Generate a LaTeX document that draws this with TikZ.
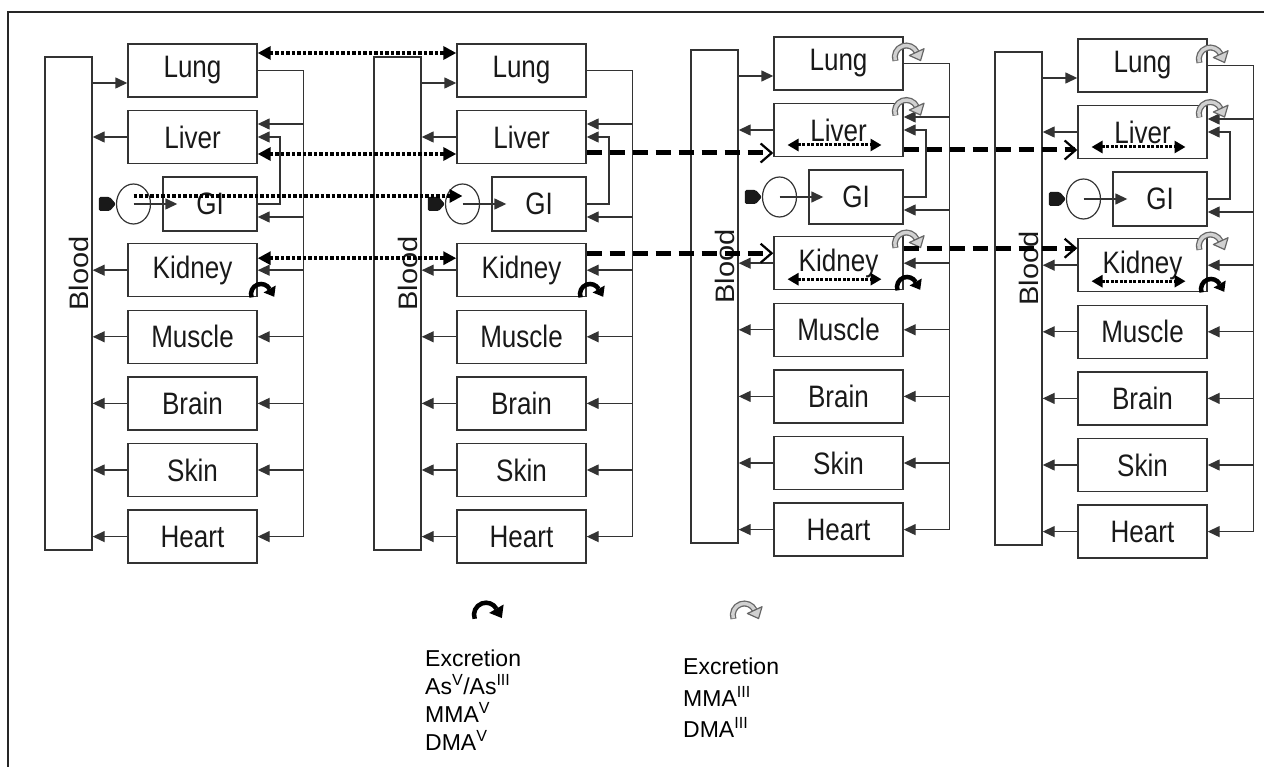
\documentclass[tikz,border=0pt]{standalone}
\usepackage{fontspec}
\setmainfont{Liberation Sans}
\usepackage{graphicx}
\usetikzlibrary{arrows.meta,shapes.geometric,calc}
\newcommand\sq[1]{\scalebox{0.84}[1]{#1}}
\tikzset{
  ln/.style={draw=black!80, line width=1.4pt},
  arr/.style={ln, -{Triangle[length=12pt,width=11pt]}},
  organ/.style={draw=black!80, line width=1.4pt, rectangle, minimum width=129pt, minimum height=53pt, inner sep=0pt, text=black!90, font=\fontsize{31}{36}\selectfont},
  gibox/.style={organ, minimum width=94pt, minimum height=54pt},
  blood/.style={draw=black!80, line width=1.4pt, rectangle, minimum width=47pt, minimum height=493pt, inner sep=0pt},
  bloodtxt/.style={rotate=90, inner sep=0pt, text=black!90, font=\fontsize{29}{34}\selectfont},
  lumen/.style={ellipse, draw=black!80, line width=1.2pt, minimum width=34pt, minimum height=40pt, inner sep=0pt},
  tab/.style={fill=black!90, rounded corners=1.5pt},
  dotarr/.style={line width=4pt, black, dash pattern=on 3.5pt off 2pt, {Triangle[length=13pt,width=13pt]}-{Triangle[length=13pt,width=13pt]}},
  dotone/.style={line width=4pt, black, dash pattern=on 3.5pt off 2pt, -{Triangle[length=13pt,width=13pt]}},
  innerdot/.style={line width=3pt, black, dash pattern=on 3pt off 1.5pt, {Triangle[length=11pt,width=12pt]}-{Triangle[length=11pt,width=12pt]}},
  dasharr/.style={line width=5pt, black, dash pattern=on 15pt off 8pt, -{Straight Barb[length=11pt,width=19pt,line width=2.2pt]}},
  legend/.style={inner sep=0pt, align=left, text=black},
  frame/.style={line width=1.5pt, black!85},
  blackcurl/.pic={
    \draw[line width=4.5pt, black] (200:10) arc (200:30:10);
    \fill[black] (14.7,8.5) -- (13.2,-2.8) -- (2.6,1.5) -- cycle;
  },
  graycurl/.pic={
    \draw[line width=6pt, black!60] (200:10) arc (200:25:10);
    \draw[line width=3.4pt, black!18] (197:10) arc (197:28:10);
    \filldraw[fill=black!18, draw=black!60, line width=1.2pt, line join=round] (15.4,7.2) -- (12.4,-3.05) -- (2.7,1.3) -- cycle;
  },
}
\newcommand\organcol[1]{%
  \node[blood] (#1blood) at (-59.5,-303.5) {};
  \node[bloodtxt] (#1bloodtxt) at (-49.5,-273.5) {\scalebox{1}[0.92]{Blood}};
  \node[organ] (#1lung) at (64.5,-70.5) {\sq{Lung}};
  \node[organ] (#1liver) at (64.5,-137) {\sq{Liver}};
  \node[gibox] (#1gi) at (82,-204) {\sq{GI}};
  \node[organ] (#1kidney) at (64.5,-270.2) {\sq{Kidney}};
  \node[organ] (#1muscle) at (64.5,-336.8) {\sq{Muscle}};
  \node[organ] (#1brain) at (64.5,-403.4) {\sq{Brain}};
  \node[organ] (#1skin) at (64.5,-470) {\sq{Skin}};
  \node[organ] (#1heart) at (64.5,-536.6) {\sq{Heart}};
  \node[lumen] (#1lumen) at (5.5,-204) {};
  \coordinate (#1vtop) at (175.5,-70.5);
  \coordinate (#1vbot) at (175.5,-536.6);
  \coordinate (#1bend) at (152,-204);
  \coordinate (#1bl) at ([yshift=-12.5pt]#1lung.west);
  \coordinate (#1livin) at ([yshift=13pt]#1liver.east);
  \coordinate (#1giin) at ([yshift=-13pt]#1gi.east);
  \coordinate (#1gitip) at ([xshift=15pt]#1gi.west);
  \draw[arr] (#1bl -| #1blood.east) -- (#1bl);
  \draw[ln] (#1lung.east) -- (#1vtop) -- (#1vbot);
  \draw[arr] (#1livin -| #1vtop) -- (#1livin);
  \draw[arr] (#1giin -| #1vtop) -- (#1giin);
  \foreach \o in {kidney,muscle,brain,skin,heart} {
    \draw[arr] (#1\o.east -| #1vtop) -- (#1\o.east);
  }
  \foreach \o in {liver,kidney,muscle,brain,skin,heart} {
    \draw[arr] (#1\o.west) -- (#1\o.west -| #1blood.east);
  }
  \draw[arr] (#1gi.east) -- (#1gi.east -| #1bend) |- (#1liver.east);
  \fill[tab] ($(#1lumen.west)+(-17,7)$) -- ++(11,0) -- ++(6,-7) -- ++(-6,-7) -- ++(-11,0) -- cycle;
  \draw[arr] (#1lumen.center) -- (#1gitip);
  \pic at (133,-294) {blackcurl};
}
\newcommand\graycurls{%
  \pic[scale=1.15] at (132.3,-64) {graycurl};
  \pic[scale=1.15] at (132.3,-118.5) {graycurl};
  \pic[scale=1.15] at (132.3,-251) {graycurl};
}
\newcommand\innerdots[1]{%
  \draw[innerdot] ($(#1liver.center)+(-51,-15)$) -- ($(#1liver.center)+(43,-15)$);
  \draw[innerdot] ($(#1kidney.center)+(-51,-16)$) -- ($(#1kidney.center)+(43,-16)$);
}
\begin{document}
\begin{tikzpicture}[x=1pt,y=1pt]
\useasboundingbox (0,0) rectangle (1264,-767);
\draw[frame] (8,-767) -- (8,-12) -- (1264,-12);
\begin{scope}[xshift=128pt]\organcol{c1}\end{scope}
\begin{scope}[xshift=457pt]\organcol{c2}\end{scope}
\begin{scope}[xshift=774pt,yshift=7pt]\organcol{c3}\graycurls\innerdots{c3}\end{scope}
\begin{scope}[xshift=1078pt,yshift=5pt]\organcol{c4}\graycurls\innerdots{c4}\end{scope}
% dotted links col1 -> col2
\coordinate (p1) at ([yshift=17.5pt]c1lung.east);
\draw[dotarr] (p1) -- (p1 -| c2lung.west);
\coordinate (p2) at ([yshift=-17pt]c1liver.east);
\draw[dotarr] (p2) -- (p2 -| c2liver.west);
\coordinate (p3) at ([yshift=12pt]c1kidney.east);
\draw[dotarr] (p3) -- (p3 -| c2kidney.west);
\coordinate (p4) at ([yshift=8pt]c1lumen.center);
\draw[dotone] (p4) -- (p4 -| c2lumen.center);
% dashed links
\coordinate (q1) at ([yshift=-16pt]c2liver.east);
\draw[dasharr] (q1) -- (q1 -| c3liver.west);
\coordinate (q2) at ([yshift=-20pt]c3liver.east);
\draw[dasharr] (q2) -- (q2 -| c4liver.west);
\coordinate (q3) at ([yshift=17pt]c2kidney.east);
\draw[dasharr] (q3) -- (q3 -| c3kidney.west);
\coordinate (q4) at ([yshift=15pt]c3kidney.east);
\draw[dasharr] (q4) -- (q4 -| c4kidney.west);
% legend
\pic[scale=1.2] at (486,-614.7) {blackcurl};
\pic[scale=1.15] at (744.3,-615) {graycurl};
\node[legend, anchor=north west, font=\fontsize{23}{28}\selectfont] (leg1) at (425,-650)
  {Excretion\\As\textsuperscript{V}/As\textsuperscript{III}\\MMA\textsuperscript{V}\\DMA\textsuperscript{V}};
\node[legend, anchor=north west, font=\fontsize{23}{31.5}\selectfont] (leg2) at (683,-658)
  {Excretion\\MMA\textsuperscript{III}\\DMA\textsuperscript{III}};
\end{tikzpicture}
\end{document}
